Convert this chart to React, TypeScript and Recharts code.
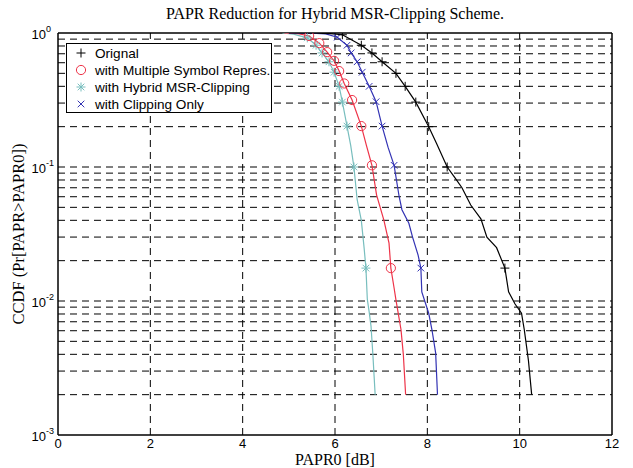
import React from 'react';
import { LineChart, Line, XAxis, YAxis, ReferenceLine } from 'recharts';

// PAPR0 [dB] / CCDF readings, one pair of arrays per curve
const origX = [5.0, 5.6, 5.9, 6.16, 6.57, 6.8, 7.02, 7.32, 7.52, 7.75, 8.03, 8.2, 8.43, 8.6, 8.75, 8.94, 9.16, 9.29, 9.5, 9.68, 9.76, 9.9, 10.04, 10.1, 10.19, 10.26];
const origY = [1, 0.998, 0.99, 0.97, 0.81, 0.71, 0.61, 0.5, 0.4, 0.305, 0.2, 0.15, 0.1, 0.083, 0.07, 0.052, 0.041, 0.03, 0.025, 0.0176, 0.0117, 0.0095, 0.0081, 0.0061, 0.0036, 0.002];
const origMarks = [3, 4, 5, 6, 7, 8, 9, 10, 12, 19];

const msrX = [4.9, 5.2, 5.44, 5.66, 5.83, 5.98, 6.09, 6.2, 6.37, 6.57, 6.68, 6.8, 6.9, 7.06, 7.17, 7.21, 7.28, 7.32, 7.43, 7.48, 7.53];
const msrY = [1, 0.99, 0.95, 0.84, 0.72, 0.62, 0.52, 0.42, 0.316, 0.202, 0.145, 0.103, 0.062, 0.04, 0.027, 0.0176, 0.0125, 0.0102, 0.0061, 0.004, 0.002];
const msrMarks = [2, 3, 4, 5, 6, 7, 8, 9, 11, 15];

const hybridX = [4.86, 5.1, 5.4, 5.59, 5.72, 5.87, 5.98, 6.09, 6.16, 6.26, 6.34, 6.41, 6.48, 6.57, 6.63, 6.67, 6.7, 6.74, 6.78, 6.82, 6.87];
const hybridY = [1, 0.98, 0.92, 0.81, 0.71, 0.61, 0.51, 0.4, 0.305, 0.202, 0.145, 0.1, 0.057, 0.04, 0.025, 0.0176, 0.0103, 0.0083, 0.0065, 0.004, 0.002];
const hybridMarks = [2, 3, 4, 5, 6, 7, 8, 9, 11, 15];

const clipX = [5.0, 5.5, 5.8, 6.05, 6.26, 6.35, 6.48, 6.59, 6.74, 6.89, 7.02, 7.15, 7.28, 7.39, 7.45, 7.6, 7.68, 7.8, 7.86, 7.88, 8.03, 8.1, 8.18, 8.22];
const clipY = [1, 0.998, 0.985, 0.93, 0.81, 0.71, 0.61, 0.51, 0.4, 0.307, 0.202, 0.14, 0.103, 0.06, 0.048, 0.038, 0.03, 0.022, 0.0176, 0.0117, 0.0081, 0.0061, 0.0041, 0.002];
const clipMarks = [3, 4, 5, 6, 7, 8, 9, 10, 12, 18];

const xTicks = [0, 2, 4, 6, 8, 10, 12];
const yTicks = [0.001, 0.01, 0.1, 1];
const gridX = [2, 4, 6, 8, 10];
const gridY = [
	0.002, 0.003, 0.004, 0.005, 0.006, 0.007, 0.008, 0.009, 0.01,
	0.02, 0.03, 0.04, 0.05, 0.06, 0.07, 0.08, 0.09, 0.1,
	0.2, 0.3, 0.4, 0.5, 0.6, 0.7, 0.8, 0.9
];

const legendNames = ['Orignal', 'with Multiple Symbol Repres.', 'with Hybrid MSR-Clipping', 'with Clipping Only'];

const sans = '"Liberation Sans", Arial, sans-serif';
const serif = '"Liberation Serif", "Times New Roman", serif';

const colors = {
	orig: '#000000',
	msr: '#ee3348',
	hybrid: '#78bebe',
	clip: '#3333b4'
};

type Kind = 'plus' | 'circle' | 'star' | 'cross';

const build = (xs: number[], ys: number[], marks: number[]) =>
	xs.map((x, i) => ({ x, y: ys[i], m: marks.includes(i) }));

const origData = build(origX, origY, origMarks);
const msrData = build(msrX, msrY, msrMarks);
const hybridData = build(hybridX, hybridY, hybridMarks);
const clipData = build(clipX, clipY, clipMarks);

const Marker = ({ kind, cx, cy, color }: { kind: Kind; cx: number; cy: number; color: string }) => {
	const s = 4.5;
	const d = 3.3;
	if (kind === 'circle') {
		return <circle cx={cx} cy={cy} r={4.6} fill="none" stroke={color} strokeWidth={1} />;
	}
	const plus = (
		<>
			<line x1={cx - s} y1={cy} x2={cx + s} y2={cy} />
			<line x1={cx} y1={cy - s} x2={cx} y2={cy + s} />
		</>
	);
	const cross = (
		<>
			<line x1={cx - d} y1={cy - d} x2={cx + d} y2={cy + d} />
			<line x1={cx - d} y1={cy + d} x2={cx + d} y2={cy - d} />
		</>
	);
	return (
		<g stroke={color} strokeWidth={1}>
			{kind === 'plus' && plus}
			{kind === 'cross' && cross}
			{kind === 'star' && (
				<>
					{plus}
					{cross}
				</>
			)}
		</g>
	);
};

const dotFor = (kind: Kind, color: string) => (props: any) => {
	const { cx, cy, payload, index } = props;
	if (!payload || !payload.m) return <g key={`n-${index}`} />;
	return (
		<g key={`m-${index}`}>
			<Marker kind={kind} cx={cx} cy={cy} color={color} />
		</g>
	);
};

const LogTick = (props: any) => {
	const { x, y, payload } = props;
	const exp = Math.round(Math.log10(payload.value));
	return (
		<g fontFamily={sans} fill="#000">
			<text x={x - 6} y={y + 6} textAnchor="end" fontSize={13}>10</text>
			<text x={x - 6} y={y - 1} textAnchor="start" fontSize={9}>{exp}</text>
		</g>
	);
};

const legendKinds: Kind[] = ['plus', 'circle', 'star', 'cross'];
const legendColors = [colors.orig, colors.msr, colors.hybrid, colors.clip];

const App = () => {
	return (
		<div style={{ position: 'absolute', left: 0, top: 0, width: 633, height: 468, background: '#fff' }}>
			<LineChart
				width={633}
				height={468}
				margin={{ top: 33, right: 21, bottom: 0, left: 0 }}
			>
				{gridX.map((v) => (
					<ReferenceLine key={`gx${v}`} x={v} stroke="#000" strokeWidth={1} strokeDasharray="7 5" />
				))}
				{gridY.map((v) => (
					<ReferenceLine key={`gy${v}`} y={v} stroke="#000" strokeWidth={1} strokeDasharray="7 5" />
				))}
				<ReferenceLine y={1} stroke="#000" strokeWidth={1.5} />
				<ReferenceLine x={12} stroke="#000" strokeWidth={1.5} />
				<XAxis
					type="number"
					dataKey="x"
					domain={[0, 12]}
					ticks={xTicks}
					allowDataOverflow
					height={33}
					tickLine={false}
					tickSize={4}
					tickMargin={0}
					axisLine={{ stroke: '#000', strokeWidth: 1.5 }}
					tick={{ fill: '#000', fontSize: 13, fontFamily: sans }}
				/>
				<YAxis
					type="number"
					scale="log"
					domain={[0.001, 1]}
					ticks={yTicks}
					allowDataOverflow
					width={58}
					tickLine={false}
					tickSize={4}
					tickMargin={2}
					axisLine={{ stroke: '#000', strokeWidth: 1.5 }}
					tick={<LogTick />}
				/>
				<Line data={hybridData} dataKey="y" type="linear" stroke={colors.hybrid} strokeWidth={1.2} dot={dotFor('star', colors.hybrid)} isAnimationActive={false} />
				<Line data={msrData} dataKey="y" type="linear" stroke={colors.msr} strokeWidth={1.2} dot={dotFor('circle', colors.msr)} isAnimationActive={false} />
				<Line data={clipData} dataKey="y" type="linear" stroke={colors.clip} strokeWidth={1.2} dot={dotFor('cross', colors.clip)} isAnimationActive={false} />
				<Line data={origData} dataKey="y" type="linear" stroke={colors.orig} strokeWidth={1.2} dot={dotFor('plus', colors.orig)} isAnimationActive={false} />
			</LineChart>

			<div style={{ position: 'absolute', left: 58, width: 554, top: 4, textAlign: 'center', fontFamily: serif, fontSize: 16, lineHeight: '19px', color: '#000' }}>
				PAPR Reduction for Hybrid MSR-Clipping Scheme.
			</div>
			<div style={{ position: 'absolute', left: 58, width: 554, top: 451, textAlign: 'center', fontFamily: serif, fontSize: 16, lineHeight: '17px', color: '#000' }}>
				PAPR0 [dB]
			</div>
			<div
				style={{
					position: 'absolute',
					left: 19,
					top: 234,
					transform: 'translate(-50%, -50%) rotate(-90deg)',
					whiteSpace: 'nowrap',
					fontFamily: serif,
					fontSize: 16.5,
					lineHeight: '18px',
					color: '#000'
				}}
			>
				CCDF (Pr[PAPR&gt;PAPR0])
			</div>

			<svg style={{ position: 'absolute', left: 66, top: 43 }} width={207} height={71}>
				<rect x={0.5} y={0.5} width={205} height={69} fill="#fff" stroke="#000" strokeWidth={1} />
				<clipPath id="lgclip">
					<rect x={1} y={1} width={204} height={68} />
				</clipPath>
				{legendNames.map((name, i) => (
					<g key={name}>
						<Marker kind={legendKinds[i]} cx={15} cy={10 + i * 17} color={legendColors[i]} />
						<text
							x={29}
							y={14.5 + i * 17}
							fontFamily={sans}
							fontSize={13.6}
							fill="#000"
							clipPath="url(#lgclip)"
						>
							{name}
						</text>
					</g>
				))}
			</svg>
		</div>
	);
};

export default App;
